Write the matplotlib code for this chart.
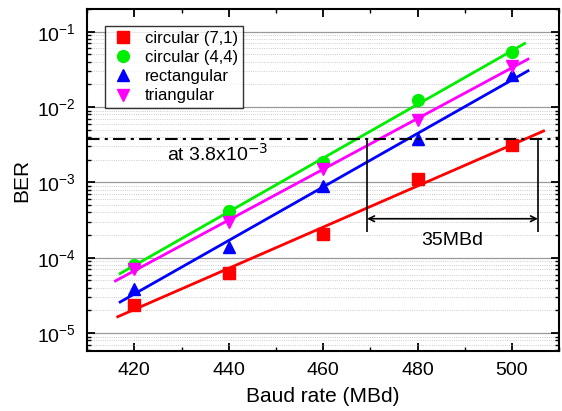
import matplotlib
matplotlib.use("Agg")
import matplotlib.pyplot as plt
import numpy as np

plt.rcParams['font.family'] = ['Liberation Sans', 'DejaVu Sans']

baud = np.array([420, 440, 460, 480, 500])
ber_circ71 = np.array([2.4e-5, 6.3e-5, 2.1e-4, 1.1e-3, 3.1e-3])
ber_circ44 = np.array([8.0e-5, 4.2e-4, 1.85e-3, 1.23e-2, 5.4e-2])
ber_rect = np.array([3.9e-5, 1.4e-4, 9.1e-4, 3.8e-3, 2.66e-2])
ber_tri = np.array([7.1e-5, 3.0e-4, 1.5e-3, 6.7e-3, 3.5e-2])

series = [
    ("circular (7,1)", ber_circ71, "#ff0000", "s", (416.5, 506.7)),
    ("circular (4,4)", ber_circ44, "#00ee00", "o", (417, 502.7)),
    ("rectangular", ber_rect, "#0000ff", "^", (417, 503.4)),
    ("triangular", ber_tri, "#ff00ff", "v", (416, 503.4)),
]

fec_limit = 3.8e-3
gap_left, gap_right = 469.3, 505.5

fig = plt.figure(figsize=(5.62, 4.11), dpi=100)
ax = fig.add_axes([0.155, 0.146, 0.84, 0.832])

for label, ber, color, marker, (x0, x1) in series:
    ax.plot(baud, ber, linestyle="none", marker=marker, color=color,
            markersize=8.5, label=label)
    # linear fit in log space
    k, b = np.polyfit(baud, np.log10(ber), 1)
    xs = np.array([x0, x1])
    ax.plot(xs, 10 ** (k * xs + b), color=color, lw=2)

ax.axhline(fec_limit, color="black", lw=1.5, linestyle=(0, (6, 2.5, 1.5, 2.5)))
ax.vlines([gap_left, gap_right], 2.2e-4, fec_limit, color="black", lw=1.2)
ax.annotate("", xy=(gap_left, 3.3e-4), xytext=(gap_right, 3.3e-4),
            arrowprops=dict(arrowstyle="<->", color="black", lw=1.2,
                            shrinkA=0, shrinkB=0))
ax.text((gap_left + gap_right) / 2, 1.7e-4, "35MBd", ha="center", va="center",
        fontsize=14)
ax.text(427, 2.4e-3, r"at 3.8x10$^{-3}$", ha="left", va="center", fontsize=14)

ax.set_yscale("log")
ax.set_xlim(410, 510)
ax.set_ylim(5.8e-6, 0.2)
ax.set_xticks([420, 440, 460, 480, 500])
ax.set_xticks([410, 430, 450, 470, 490, 510], minor=True)

ax.grid(True, which="major", axis="y", color="#999999", lw=0.9)
ax.grid(True, which="minor", axis="y", color="#bbbbbb", lw=0.6, linestyle=":")
ax.set_axisbelow(True)

ax.tick_params(which="both", direction="in", top=True, right=True, labelsize=14)
ax.tick_params(which="major", length=6, width=1.3, pad=8)
ax.tick_params(which="minor", length=3, width=1)
for s in ax.spines.values():
    s.set_linewidth(1.5)

ax.set_xlabel("Baud rate (MBd)", fontsize=15, labelpad=6)
ax.set_ylabel("BER", fontsize=15, labelpad=4)

leg = ax.legend(loc="upper left", bbox_to_anchor=(0.02, 0.975), fontsize=12,
                frameon=True, fancybox=False, edgecolor="black",
                handletextpad=0.5, borderpad=0.3, labelspacing=0.25,
                handlelength=1.6)
leg.get_frame().set_linewidth(1.0)

fig.savefig("out.png", dpi=100)
